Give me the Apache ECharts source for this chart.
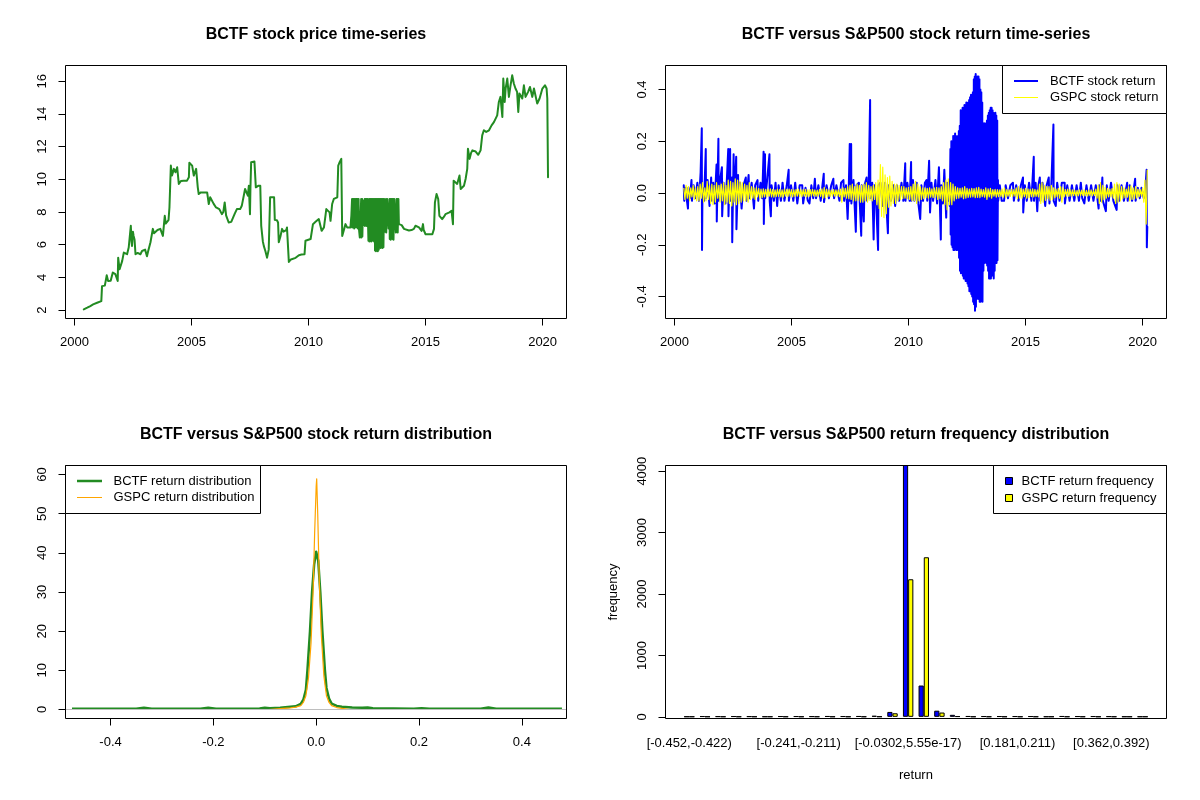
<!DOCTYPE html>
<html>
<head>
<meta charset="utf-8">
<script src="https://cdn.jsdelivr.net/npm/echarts@6/dist/echarts.min.js"></script>
<style>
html, body { margin: 0; padding: 0; background: #fff; }
#chart { width: 1200px; height: 800px; }
</style>
</head>
<body>
<div id="chart"></div>
<script>
// BCTF closing price, [decimal year, price]
var bctfPrice = [
  [2000.40,2.05],[2000.55,2.15],[2000.68,2.25],[2000.80,2.35],[2000.97,2.45],[2001.15,2.55],[2001.18,3.47],[2001.30,3.5],
  [2001.35,3.47],[2001.38,4.13],[2001.44,3.78],[2001.55,3.8],[2001.61,3.78],[2001.64,4.3],[2001.75,4.2],[2001.85,3.78],
  [2001.87,5.21],[2001.93,4.5],[2001.97,4.4],[2002.04,5.0],[2002.11,5.52],[2002.25,5.42],[2002.32,5.83],[2002.38,5.8],
  [2002.41,7.16],[2002.44,6.2],[2002.46,5.93],[2002.50,6.8],[2002.53,6.54],[2002.57,6.3],[2002.61,5.42],[2002.70,5.5],
  [2002.82,5.42],[2002.89,5.62],[2002.95,5.6],[2003.02,5.7],[2003.10,5.3],[2003.15,5.6],[2003.25,6.15],[2003.35,6.97],
  [2003.40,6.7],[2003.46,6.76],[2003.55,6.9],[2003.67,6.97],[2003.78,6.54],[2003.86,7.77],[2003.90,7.3],[2003.96,7.26],
  [2004.02,7.5],[2004.06,8.28],[2004.12,10.84],[2004.17,10.23],[2004.25,10.64],[2004.32,10.43],[2004.39,10.74],[2004.46,9.72],
  [2004.55,9.9],[2004.67,9.92],[2004.75,9.8],[2004.81,9.92],[2004.89,10.13],[2004.91,11.01],[2005.03,10.84],[2005.10,10.23],
  [2005.20,10.64],[2005.27,9.51],[2005.31,9.1],[2005.40,9.2],[2005.46,9.31],[2005.55,9.2],[2005.67,9.2],[2005.74,8.49],
  [2005.80,8.9],[2005.88,8.8],[2005.95,8.5],[2006.05,8.28],[2006.12,8.4],[2006.19,8.18],[2006.30,7.87],[2006.36,8.0],
  [2006.42,8.59],[2006.48,7.8],[2006.59,7.36],[2006.70,7.4],[2006.77,7.46],[2006.85,7.9],[2006.94,8.18],[2007.08,8.18],
  [2007.15,8.38],[2007.22,8.3],[2007.29,9.41],[2007.35,9.2],[2007.41,9.0],[2007.45,9.6],[2007.48,9.72],[2007.50,7.87],
  [2007.52,9.5],[2007.55,11.05],[2007.69,11.09],[2007.75,9.51],[2007.85,9.6],[2007.94,9.61],[2007.98,7.16],[2008.05,6.2],
  [2008.09,5.93],[2008.16,5.6],[2008.23,5.21],[2008.30,5.7],[2008.33,5.73],[2008.36,8.9],[2008.53,8.9],[2008.56,7.52],
  [2008.65,7.5],[2008.70,7.36],[2008.73,6.15],[2008.80,6.5],[2008.87,6.97],[2008.93,6.8],[2008.99,6.87],[2009.05,6.9],
  [2009.08,7.06],[2009.16,4.95],[2009.25,5.1],[2009.33,5.15],[2009.45,5.2],[2009.59,5.36],[2009.70,5.4],[2009.83,5.42],
  [2009.87,6.24],[2009.95,6.3],[2010.09,6.35],[2010.19,7.26],[2010.30,7.4],[2010.44,7.57],[2010.56,6.85],[2010.66,7.06],
  [2010.76,8.18],[2010.90,7.98],[2010.94,7.46],[2011.01,8.49],[2011.08,8.8],[2011.23,8.9],[2011.27,10.84],[2011.33,11.05],
  [2011.40,11.25],[2011.44,6.54],[2011.51,6.54],[2011.58,7.26],[2011.65,7.06],[2011.79,7.06],[2011.83,7.77],
  [2011.86,8.8],[2011.87,7.05],[2011.90,8.8],[2011.91,7.1],[2011.94,8.8],[2011.95,7.0],[2011.98,8.8],[2011.99,7.1],
  [2012.02,8.8],[2012.03,7.05],[2012.06,8.8],[2012.07,7.1],[2012.10,8.8],[2012.11,7.0],[2012.14,8.8],[2012.15,7.05],
  [2012.19,6.45],[2012.24,6.45],[2012.25,8.8],[2012.26,6.45],[2012.29,8.8],[2012.30,6.5],[2012.33,8.7],[2012.36,8.7],
  [2012.37,7.2],[2012.40,8.8],[2012.41,7.15],[2012.44,8.8],[2012.45,7.2],[2012.48,8.8],[2012.49,7.15],[2012.52,8.8],
  [2012.55,8.8],[2012.56,6.25],[2012.59,8.8],[2012.60,6.2],[2012.63,8.8],[2012.64,6.3],[2012.67,8.8],[2012.68,6.2],
  [2012.71,8.8],[2012.72,6.25],[2012.75,8.8],[2012.76,6.3],[2012.79,8.8],[2012.80,6.2],[2012.83,8.8],[2012.84,5.65],
  [2012.87,8.8],[2012.88,5.6],[2012.91,8.8],[2012.92,5.65],[2012.95,8.8],[2012.96,5.6],[2012.99,8.8],[2013.00,5.7],
  [2013.03,8.8],[2013.04,5.85],[2013.07,8.8],[2013.08,5.8],[2013.11,8.8],[2013.12,5.85],[2013.15,8.8],[2013.16,5.8],
  [2013.19,8.8],[2013.20,5.85],[2013.23,8.8],[2013.26,8.8],[2013.27,6.8],[2013.31,8.8],[2013.32,6.75],[2013.36,8.8],
  [2013.40,8.8],[2013.42,7.0],[2013.46,8.8],[2013.47,6.35],[2013.50,8.8],[2013.51,6.3],[2013.54,8.8],[2013.55,6.4],
  [2013.58,8.8],[2013.59,6.35],[2013.62,8.8],[2013.63,6.3],[2013.66,8.8],[2013.68,8.8],[2013.72,8.8],[2013.73,6.75],
  [2013.76,8.8],[2013.77,6.8],[2013.80,8.8],[2013.81,6.75],[2013.84,8.8],[2013.86,7.26],
  [2013.98,7.2],[2014.08,6.97],[2014.29,6.87],[2014.40,6.9],[2014.50,6.97],[2014.57,7.16],[2014.65,7.1],[2014.72,7.06],
  [2014.83,6.85],[2014.89,7.26],[2014.92,6.9],[2015.00,6.64],[2015.29,6.64],[2015.36,6.97],[2015.40,8.59],[2015.47,9.1],
  [2015.54,8.8],[2015.59,7.77],[2015.71,7.57],[2015.78,7.7],[2015.85,7.87],[2016.02,7.98],[2016.11,8.08],[2016.17,7.26],
  [2016.20,9.92],[2016.28,10.02],[2016.35,9.72],[2016.45,10.23],[2016.50,9.41],[2016.58,9.5],[2016.64,9.61],[2016.71,10.02],
  [2016.78,10.64],[2016.81,11.87],[2016.88,11.25],[2016.94,11.6],[2017.00,11.77],[2017.14,11.7],[2017.25,11.5],[2017.35,11.77],
  [2017.42,12.69],[2017.49,13.0],[2017.59,12.9],[2017.71,13.0],[2017.82,13.3],[2017.92,13.5],[2018.06,13.91],[2018.13,14.73],
  [2018.20,15.04],[2018.28,13.81],[2018.32,16.16],[2018.38,14.73],[2018.42,15.55],[2018.49,16.16],[2018.56,15.04],[2018.63,15.75],
  [2018.70,16.36],[2018.77,15.86],[2018.84,15.55],[2018.91,15.35],[2018.96,14.12],[2019.01,15.25],[2019.13,14.94],[2019.20,15.75],
  [2019.27,15.04],[2019.38,15.35],[2019.46,15.65],[2019.56,15.04],[2019.63,15.55],[2019.70,15.65],[2019.77,14.63],[2019.87,14.94],
  [2019.99,15.55],[2020.10,15.75],[2020.17,15.55],[2020.20,14.94],[2020.23,10.12]
];

// BCTF daily return, [decimal year, return]
var bctfReturn = [
  [2000.40,0.03],[2000.42,-0.03],[2000.47,0.02],[2000.52,-0.02],[2000.58,-0.06],[2000.60,0.02],[2000.66,-0.02],[2000.73,0.05],
  [2000.75,-0.03],[2000.82,0.03],[2000.90,-0.02],[2000.98,0.04],[2001.05,-0.03],[2001.12,0.08],[2001.17,0.25],[2001.18,-0.22],
  [2001.20,0.02],[2001.27,-0.03],[2001.34,0.17],[2001.35,-0.02],[2001.42,0.05],[2001.50,-0.05],[2001.57,0.06],[2001.60,-0.03],
  [2001.66,0.04],[2001.72,-0.04],[2001.80,0.11],[2001.81,-0.11],[2001.88,0.21],[2001.89,-0.03],[2001.95,0.05],[2002.03,0.10],
  [2002.04,-0.09],[2002.10,0.04],[2002.18,-0.04],[2002.24,0.05],[2002.30,0.17],[2002.31,-0.09],[2002.38,0.17],[2002.39,-0.03],
  [2002.46,0.06],[2002.47,-0.19],[2002.53,0.15],[2002.54,-0.03],[2002.60,0.07],[2002.64,0.14],[2002.65,-0.14],[2002.72,0.07],
  [2002.73,-0.03],[2002.80,0.04],[2002.87,-0.06],[2002.95,0.03],[2003.05,0.06],[2003.08,-0.03],[2003.17,0.07],[2003.20,-0.02],
  [2003.30,0.04],[2003.40,-0.06],[2003.45,0.03],[2003.55,0.05],[2003.58,-0.03],[2003.68,0.04],[2003.75,-0.02],[2003.81,0.16],
  [2003.82,-0.12],[2003.87,0.15],[2003.88,-0.02],[2003.95,0.04],[2004.06,0.15],[2004.07,-0.03],[2004.12,-0.09],[2004.15,0.03],
  [2004.25,-0.03],[2004.32,0.04],[2004.39,-0.05],[2004.45,0.03],[2004.55,-0.03],[2004.62,0.04],[2004.70,-0.03],[2004.80,0.03],
  [2004.88,0.09],[2004.89,-0.03],[2004.98,0.03],[2005.08,-0.03],[2005.16,0.04],[2005.25,-0.04],[2005.35,0.03],[2005.46,0.03],
  [2005.50,-0.04],[2005.60,0.02],[2005.70,-0.03],[2005.77,-0.04],[2005.85,0.03],[2005.93,-0.02],[2006.00,0.055],[2006.05,-0.02],
  [2006.15,0.03],[2006.25,-0.03],[2006.38,0.075],[2006.39,-0.035],[2006.50,0.03],[2006.60,-0.02],[2006.70,0.03],[2006.79,0.055],
  [2006.82,-0.02],[2006.92,0.03],[2007.05,-0.03],[2007.12,0.04],[2007.22,0.05],[2007.25,-0.03],[2007.33,0.03],[2007.40,-0.10],
  [2007.45,0.03],[2007.49,0.19],[2007.50,-0.03],[2007.55,0.19],[2007.56,-0.04],[2007.65,0.05],[2007.75,-0.15],[2007.78,0.03],
  [2007.88,0.04],[2007.98,-0.165],[2008.00,0.03],[2008.09,-0.11],[2008.12,0.03],[2008.21,0.06],[2008.23,-0.03],[2008.30,0.04],
  [2008.36,0.36],[2008.37,-0.02],[2008.45,0.04],[2008.51,-0.18],[2008.55,0.03],[2008.62,-0.04],[2008.70,-0.22],[2008.72,0.03],
  [2008.80,0.04],[2008.90,-0.05],[2009.00,0.04],[2009.12,-0.155],[2009.15,0.03],[2009.25,-0.03],[2009.35,0.03],[2009.43,-0.05],
  [2009.50,0.03],[2009.60,-0.03],[2009.70,0.04],[2009.78,-0.03],[2009.86,0.115],[2009.87,-0.03],[2009.95,0.04],[2010.05,-0.03],
  [2010.11,0.12],[2010.12,-0.03],[2010.19,0.05],[2010.25,-0.03],[2010.35,0.04],[2010.42,-0.04],[2010.50,-0.10],[2010.55,0.03],
  [2010.62,-0.03],[2010.70,0.04],[2010.77,0.05],[2010.80,-0.03],[2010.88,0.125],[2010.92,-0.075],[2010.98,0.04],[2011.05,-0.03],
  [2011.15,0.05],[2011.22,-0.04],[2011.30,0.10],[2011.38,-0.18],[2011.40,0.03],[2011.47,-0.04],[2011.53,0.09],[2011.61,-0.095],
  [2011.65,0.04],[2011.70,-0.03],[2011.75,0.05],[2011.76,-0.05],
  [2011.79,0.17],[2011.80,-0.16],[2011.83,0.20],[2011.84,-0.20],[2011.87,0.20],[2011.88,-0.21],[2011.91,0.22],[2011.92,-0.22],
  [2011.95,0.22],[2011.96,-0.22],[2011.99,0.23],[2012.00,-0.21],[2012.03,0.22],[2012.04,-0.22],[2012.07,0.20],[2012.08,-0.22],
  [2012.11,0.22],[2012.12,-0.20],[2012.15,0.24],[2012.16,-0.25],[2012.19,0.26],[2012.20,-0.30],[2012.23,0.32],[2012.24,-0.31],
  [2012.27,0.25],[2012.28,-0.25],[2012.31,0.33],[2012.32,-0.32],[2012.35,0.33],[2012.36,-0.33],[2012.39,0.34],[2012.40,-0.33],
  [2012.43,0.34],[2012.44,-0.34],[2012.47,0.35],[2012.48,-0.34],[2012.51,0.34],[2012.52,-0.35],[2012.55,0.35],[2012.56,-0.36],
  [2012.59,0.36],[2012.60,-0.38],[2012.63,0.37],[2012.64,-0.38],[2012.67,0.38],[2012.68,-0.39],[2012.71,0.37],[2012.72,-0.40],
  [2012.75,0.39],[2012.76,-0.42],[2012.79,0.44],[2012.80,-0.43],[2012.83,0.45],[2012.84,-0.455],[2012.87,0.46],[2012.88,-0.44],
  [2012.91,0.42],[2012.92,-0.41],[2012.95,0.45],[2012.96,-0.40],[2012.99,0.45],[2013.00,-0.41],[2013.03,0.44],[2013.04,-0.42],
  [2013.07,0.40],[2013.08,-0.42],[2013.11,0.39],[2013.12,-0.40],[2013.15,0.35],[2013.16,-0.42],[2013.19,0.27],[2013.20,-0.30],
  [2013.23,0.27],[2013.24,-0.27],[2013.27,0.26],[2013.28,-0.26],[2013.31,0.27],[2013.32,-0.27],[2013.35,0.28],[2013.36,-0.28],
  [2013.39,0.30],[2013.40,-0.30],[2013.43,0.31],[2013.44,-0.33],[2013.47,0.32],[2013.48,-0.33],[2013.51,0.33],[2013.52,-0.33],
  [2013.55,0.33],[2013.56,-0.32],[2013.59,0.32],[2013.60,-0.31],[2013.63,0.31],[2013.64,-0.33],[2013.67,0.30],[2013.68,-0.30],
  [2013.71,0.31],[2013.72,-0.27],[2013.75,0.30],[2013.76,-0.27],[2013.79,0.28],[2013.80,-0.26],[2013.82,0.05],[2013.83,-0.03],
  [2013.90,0.03],[2013.98,-0.03],[2014.08,-0.03],[2014.15,0.03],[2014.25,-0.02],[2014.35,0.03],[2014.46,0.04],[2014.50,-0.03],
  [2014.60,0.03],[2014.70,-0.03],[2014.80,0.03],[2014.89,0.06],[2014.90,-0.075],[2014.97,0.03],[2015.05,-0.03],[2015.15,0.04],
  [2015.25,-0.03],[2015.35,0.14],[2015.36,-0.03],[2015.43,0.04],[2015.50,-0.07],[2015.55,0.03],[2015.61,0.06],[2015.63,-0.03],
  [2015.72,0.04],[2015.84,-0.05],[2015.90,0.03],[2015.99,0.06],[2016.02,-0.04],[2016.10,0.03],[2016.19,0.265],[2016.20,-0.03],
  [2016.29,-0.05],[2016.35,0.04],[2016.45,-0.03],[2016.55,0.04],[2016.67,0.04],[2016.68,-0.04],[2016.78,0.03],[2016.88,-0.03],
  [2016.98,0.03],[2017.08,-0.03],[2017.18,0.03],[2017.28,-0.03],[2017.36,0.04],[2017.42,-0.02],[2017.51,-0.04],[2017.60,0.03],
  [2017.70,-0.03],[2017.80,0.03],[2017.90,-0.03],[2018.00,0.03],[2018.12,-0.06],[2018.15,0.03],[2018.22,-0.03],[2018.28,0.06],
  [2018.30,-0.03],[2018.43,-0.07],[2018.47,0.03],[2018.55,-0.03],[2018.65,0.04],[2018.75,-0.03],[2018.89,-0.065],[2018.92,0.03],
  [2019.00,-0.03],[2019.10,0.03],[2019.20,-0.03],[2019.34,0.04],[2019.36,-0.03],[2019.45,0.03],[2019.55,-0.03],[2019.68,0.055],
  [2019.70,-0.03],[2019.80,0.02],[2019.88,-0.02],[2019.95,0.02],[2020.05,-0.02],[2020.12,0.02],[2020.17,0.09],[2020.18,-0.21],
  [2020.20,-0.13]
];

// GSPC return read every 0.05 year from 2000.4
var gspcStartYear = 2000.4;
var gspcStepYear = 0.05;
var gspcReturn = [
  0.02,-0.025,0.03,-0.02,0.025,-0.03,0.02,-0.015,0.03,-0.025,0.02,-0.03,
  0.025,-0.03,0.035,-0.02,0.04,-0.035,0.02,-0.03,0.045,-0.025,0.03,-0.04,0.035,-0.045,0.03,-0.035,0.04,-0.02,0.03,-0.035,
  0.035,-0.03,0.04,-0.045,0.03,-0.035,0.05,-0.04,0.045,-0.05,0.04,-0.035,0.055,-0.045,0.05,-0.04,0.045,-0.035,0.04,-0.03,
  0.035,-0.03,0.03,-0.035,0.04,-0.025,0.025,-0.02,0.02,-0.025,0.02,-0.015,0.018,-0.02,0.015,-0.018,0.016,-0.015,0.014,-0.015,
  0.015,-0.012,0.016,-0.015,0.014,-0.016,0.012,-0.014,0.015,-0.013,0.014,-0.015,0.012,-0.016,0.015,-0.012,0.014,-0.013,0.015,-0.012,
  0.013,-0.015,0.012,-0.013,0.014,-0.012,0.015,-0.013,0.012,-0.014,0.013,-0.012,0.014,-0.015,0.012,-0.013,0.013,-0.012,0.014,-0.011,
  0.012,-0.013,0.011,-0.012,0.014,-0.013,0.016,-0.02,0.022,-0.018,0.015,-0.014,0.012,-0.013,0.011,-0.012,0.013,-0.012,0.012,-0.011,
  0.012,-0.014,0.015,-0.035,0.02,-0.015,0.018,-0.02,0.025,-0.022,0.03,-0.025,0.035,-0.03,0.025,-0.03,0.035,-0.028,0.03,-0.035,
  0.03,-0.035,0.035,-0.03,0.04,-0.035,0.03,-0.028,0.025,-0.03,0.03,-0.025,0.04,-0.045,0.05,-0.06,0.11,-0.09,0.1,-0.095,
  0.07,-0.08,0.06,-0.055,0.065,-0.05,0.045,-0.04,0.035,-0.04,0.035,-0.03,0.03,-0.025,0.025,-0.022,0.025,-0.02,0.02,-0.022,
  0.022,-0.025,0.025,-0.03,0.035,-0.03,0.045,-0.04,0.035,-0.03,0.025,-0.025,0.02,-0.022,0.02,-0.018,0.018,-0.02,0.02,-0.016,
  0.016,-0.018,0.02,-0.017,0.022,-0.025,0.02,-0.022,0.025,-0.03,0.04,-0.045,0.05,-0.065,0.055,-0.045,0.04,-0.045,0.035,-0.03,
  0.025,-0.022,0.02,-0.02,0.018,-0.016,0.02,-0.022,0.025,-0.02,0.018,-0.017,0.015,-0.016,0.018,-0.015,0.017,-0.018,0.02,-0.017,
  0.022,-0.018,0.015,-0.014,0.013,-0.016,0.02,-0.025,0.016,-0.015,0.018,-0.02,0.013,-0.012,0.014,-0.016,0.013,-0.014,0.012,-0.013,
  0.015,-0.016,0.02,-0.018,0.013,-0.012,0.012,-0.013,0.014,-0.013,0.013,-0.012,0.02,-0.022,0.025,-0.02,0.018,-0.02,0.015,-0.014,
  0.018,-0.02,0.016,-0.018,0.015,-0.014,0.016,-0.015,0.014,-0.013,0.012,-0.015,0.035,-0.04,0.04,-0.035,0.03,-0.028,0.025,-0.022,
  0.025,-0.028,0.03,-0.025,0.02,-0.018,0.015,-0.014,0.018,-0.02,0.025,-0.035,0.02,-0.015,0.014,-0.012,0.015,-0.013,0.013,-0.012,
  0.012,-0.01,0.011,-0.012,0.01,-0.011,0.012,-0.01,0.011,-0.01,0.012,-0.011,0.01,-0.012,0.011,-0.01,0.012,-0.011,0.01,-0.01,
  0.015,-0.02,0.03,-0.04,0.04,-0.035,0.03,-0.025,0.022,-0.02,0.018,-0.015,0.015,-0.014,0.018,-0.02,0.035,-0.04,0.04,-0.035,
  0.035,-0.03,0.025,-0.022,0.02,-0.018,0.015,-0.016,0.025,-0.03,0.028,-0.025,0.02,-0.022,0.025,-0.02,0.015,-0.014,0.013,-0.012,
  0.02,-0.035,0.05,-0.12,0.09
];

// kernel density of the returns
var bctfDensity = [
  [-0.475,0.2],[-0.35,0.2],[-0.335,0.45],[-0.32,0.2],[-0.225,0.2],[-0.21,0.45],[-0.195,0.2],[-0.11,0.25],
  [-0.1,0.45],[-0.09,0.3],[-0.07,0.45],[-0.05,0.7],[-0.04,0.8],[-0.03,1.4],[-0.025,2.5],[-0.02,5],
  [-0.017,10],[-0.012,20],[-0.008,30],[-0.004,37],[0,40.3],[0.004,38],[0.008,30],[0.012,20],
  [0.017,10],[0.02,5.5],[0.025,2.8],[0.03,1.5],[0.04,0.9],[0.05,0.7],[0.07,0.5],[0.09,0.45],
  [0.1,0.5],[0.11,0.3],[0.19,0.2],[0.205,0.35],[0.22,0.2],[0.32,0.2],[0.335,0.5],[0.35,0.2],[0.478,0.2]
];
var gspcDensity = [
  [-0.092,0],[-0.07,0.2],[-0.05,0.4],[-0.04,0.6],[-0.03,1.0],[-0.025,1.8],[-0.02,3.5],[-0.015,8],
  [-0.01,17],[-0.006,30],[-0.003,45],[0,57],[0.001,58.9],[0.003,50],[0.006,33],[0.01,19],
  [0.015,8.5],[0.02,3.5],[0.025,1.8],[0.03,1.0],[0.04,0.5],[0.05,0.3],[0.065,0]
];

// return frequency table
var binLabels = [
  '[-0.452,-0.422)','[-0.422,-0.392)','[-0.392,-0.362)','[-0.362,-0.331)','[-0.331,-0.301)','[-0.301,-0.271)',
  '[-0.271,-0.241)','[-0.241,-0.211)','[-0.211,-0.181)','[-0.181,-0.151)','[-0.151,-0.12)','[-0.12,-0.0903)',
  '[-0.0903,-0.0602)','[-0.0602,-0.0302)','[-0.0302,5.55e-17)','[5.55e-17,0.0301)','[0.0301,0.0603)','[0.0603,0.0904)',
  '[0.0904,0.121)','[0.121,0.151)','[0.151,0.181)','[0.181,0.211)','[0.211,0.241)','[0.241,0.271)',
  '[0.271,0.301)','[0.301,0.332)','[0.332,0.362)','[0.362,0.392)','[0.392,0.422)','[0.422,0.452]'
];
var shownBins = [0, 7, 14, 21, 27];
var bctfFreq = [4,10,8,10,8,4,10,10,8,12,10,12,18,80,4200,510,100,33,12,10,10,10,10,4,12,10,10,8,4,4];
var gspcFreq = [3,3,3,3,3,3,3,3,3,3,3,3,5,58,2240,2598,70,10,3,3,3,3,3,3,3,3,3,3,3,3];

// tick labels
var yearTicks = [2000, 2005, 2010, 2015, 2020];
var priceTicks = [2, 4, 6, 8, 10, 12, 14, 16];
var returnTicks = [-0.4, -0.2, 0, 0.2, 0.4];
var densXTicks = [-0.4, -0.2, 0, 0.2, 0.4];
var densYTicks = [0, 10, 20, 30, 40, 50, 60];
var freqTicks = [0, 1000, 2000, 3000, 4000];

var FONT = '"Liberation Sans", Arial, Helvetica, sans-serif';

var gspcSeries = gspcReturn.map(function (v, i) {
  return [+(gspcStartYear + i * gspcStepYear).toFixed(2), v];
});

function plain(v) { return String(v); }
function oneDec(v) { return (Math.abs(v) < 1e-9 ? 0 : v).toFixed(1); }

function valAxis(grid, min, max, ticks, fmt, isY) {
  return {
    type: 'value', gridIndex: grid, min: min, max: max,
    axisLine: { show: false, onZero: false },
    splitLine: { show: false },
    axisTick: { show: true, length: 7, customValues: ticks, lineStyle: { color: '#000', width: 1 } },
    axisLabel: {
      customValues: ticks, formatter: fmt, color: '#000', fontSize: 13, fontFamily: FONT,
      margin: 17,
      rotate: isY ? 90 : 0,
      align: 'center',
      verticalAlign: isY ? 'bottom' : 'top'
    }
  };
}

var chart = echarts.init(document.getElementById('chart'));

var grids = [
  { left: 65.5, top: 65.5, width: 501, height: 253 },
  { left: 665.5, top: 65.5, width: 501, height: 253 },
  { left: 65.5, top: 465.5, width: 501, height: 253 },
  { left: 681.45, top: 465.5, width: 469, height: 253 }
];

var xAxes = [
  valAxis(0, 1999.62, 2021.02, yearTicks, plain, false),
  valAxis(1, 1999.62, 2021.02, yearTicks, plain, false),
  valAxis(2, -0.4876, 0.4869, densXTicks, oneDec, false),
  {
    type: 'category', gridIndex: 3, data: binLabels,
    axisLine: { show: false, onZero: false }, axisTick: { show: false }, splitLine: { show: false },
    axisLabel: {
      interval: function (i) { return shownBins.indexOf(i) >= 0; },
      color: '#000', fontSize: 13, fontFamily: FONT, margin: 18
    },
    name: 'return', nameLocation: 'middle', nameGap: 50,
    nameTextStyle: { color: '#000', fontSize: 13, fontFamily: FONT }
  }
];

var yAxis4 = valAxis(3, -27, 4092, freqTicks, plain, true);
yAxis4.offset = 15.95;
yAxis4.name = 'frequency';
yAxis4.nameLocation = 'middle';
yAxis4.nameRotate = 90;
yAxis4.nameGap = 46;
yAxis4.nameTextStyle = { color: '#000', fontSize: 13, fontFamily: FONT };

var yAxes = [
  valAxis(0, 1.49, 16.96, priceTicks, plain, true),
  valAxis(1, -0.485, 0.493, returnTicks, oneDec, true),
  valAxis(2, -2.3, 62.3, densYTicks, plain, true),
  yAxis4
];

function frame(x, y, w, h) {
  return { type: 'rect', silent: true, z: 100, shape: { x: x, y: y, width: w, height: h },
    style: { fill: 'none', stroke: '#000', lineWidth: 1 } };
}
function legendBox(x, y, w, h) {
  return { type: 'rect', silent: true, z: 110, shape: { x: x, y: y, width: w, height: h },
    style: { fill: '#fff', stroke: '#000', lineWidth: 1 } };
}
function legendLine(x1, x2, y, color, width) {
  return { type: 'line', silent: true, z: 111, shape: { x1: x1, y1: y, x2: x2, y2: y },
    style: { stroke: color, lineWidth: width } };
}
function legendSwatch(x, y, color) {
  return { type: 'rect', silent: true, z: 111, shape: { x: x, y: y, width: 7, height: 7 },
    style: { fill: color, stroke: '#000', lineWidth: 1 } };
}
function label(x, y, text, size, weight, align) {
  return { type: 'text', silent: true, z: 111, x: x, y: y,
    style: { text: text, fill: '#000', font: weight + ' ' + size + 'px ' + FONT,
      align: align, textAlign: align, verticalAlign: 'middle', textVerticalAlign: 'middle' } };
}

var graphics = [
  frame(65.5, 65.5, 501, 253), frame(665.5, 65.5, 501, 253),
  frame(65.5, 465.5, 501, 253), frame(665.5, 465.5, 501, 253),
  label(316, 35, 'BCTF stock price time-series', 16, 'bold', 'center'),
  label(916, 35, 'BCTF versus S&P500 stock return time-series', 16, 'bold', 'center'),
  label(316, 435, 'BCTF versus S&P500 stock return distribution', 16, 'bold', 'center'),
  label(916, 435, 'BCTF versus S&P500 return frequency distribution', 16, 'bold', 'center'),
  legendBox(1002.5, 65.5, 164, 48),
  legendLine(1014, 1038, 81, '#0000FF', 2),
  legendLine(1014, 1038, 97.5, '#FFFF00', 1),
  label(1050, 81, 'BCTF stock return', 13, 'normal', 'left'),
  label(1050, 97.5, 'GSPC stock return', 13, 'normal', 'left'),
  legendBox(65.5, 465.5, 195, 48),
  legendLine(77, 102, 481, '#228B22', 2.5),
  legendLine(77, 102, 497.5, '#FFA500', 1),
  label(113.5, 481, 'BCTF return distribution', 13, 'normal', 'left'),
  label(113.5, 497.5, 'GSPC return distribution', 13, 'normal', 'left'),
  legendBox(993.5, 465.5, 173, 48),
  legendSwatch(1005.5, 477.5, '#0000FF'),
  legendSwatch(1005.5, 494.5, '#FFFF00'),
  label(1021.5, 481, 'BCTF return frequency', 13, 'normal', 'left'),
  label(1021.5, 498, 'GSPC return frequency', 13, 'normal', 'left')
];

var lineBase = { type: 'line', showSymbol: false, symbol: 'none', animation: false, silent: true, clip: true };

chart.setOption({
  animation: false,
  backgroundColor: '#fff',
  textStyle: { fontFamily: FONT },
  grid: grids,
  xAxis: xAxes,
  yAxis: yAxes,
  graphic: graphics,
  series: [
    Object.assign({}, lineBase, { name: 'BCTF price', xAxisIndex: 0, yAxisIndex: 0, data: bctfPrice,
      lineStyle: { color: '#228B22', width: 2, join: 'round', cap: 'round' } }),
    Object.assign({}, lineBase, { name: 'BCTF stock return', xAxisIndex: 1, yAxisIndex: 1, data: bctfReturn,
      lineStyle: { color: '#0000FF', width: 2, join: 'round', cap: 'round' } }),
    Object.assign({}, lineBase, { name: 'GSPC stock return', xAxisIndex: 1, yAxisIndex: 1, data: gspcSeries,
      lineStyle: { color: '#FFFF00', width: 1.2, join: 'round' } }),
    Object.assign({}, lineBase, { name: 'BCTF return distribution', xAxisIndex: 2, yAxisIndex: 2, data: bctfDensity,
      lineStyle: { color: '#228B22', width: 2.5, join: 'round' },
      markLine: { silent: true, symbol: 'none', label: { show: false }, animation: false,
        lineStyle: { color: '#BEBEBE', width: 1, type: 'solid' }, data: [{ yAxis: 0 }] } }),
    Object.assign({}, lineBase, { name: 'GSPC return distribution', xAxisIndex: 2, yAxisIndex: 2, data: gspcDensity,
      lineStyle: { color: '#FFA500', width: 1.2, join: 'round' } }),
    { type: 'bar', name: 'BCTF return frequency', xAxisIndex: 3, yAxisIndex: 3, data: bctfFreq,
      barGap: '0%', barCategoryGap: '33.33%', animation: false, silent: true,
      itemStyle: { color: '#0000FF', borderColor: '#000', borderWidth: 1 } },
    { type: 'bar', name: 'GSPC return frequency', xAxisIndex: 3, yAxisIndex: 3, data: gspcFreq,
      barGap: '0%', barCategoryGap: '33.33%', animation: false, silent: true,
      itemStyle: { color: '#FFFF00', borderColor: '#000', borderWidth: 1 } }
  ]
});
</script>
</body>
</html>
